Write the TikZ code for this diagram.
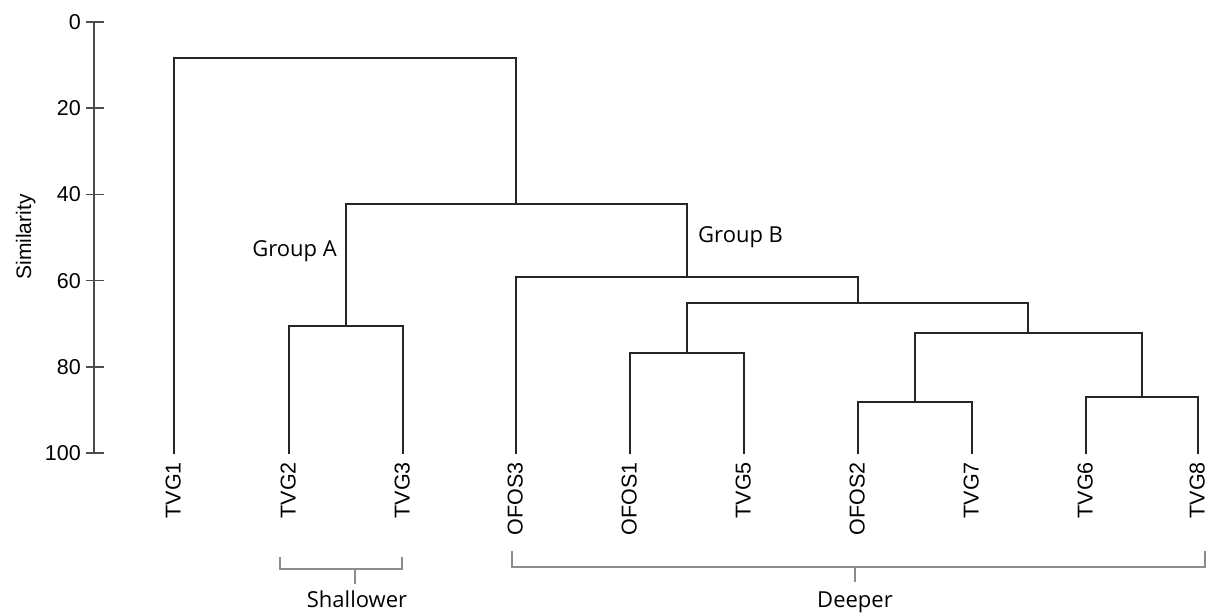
\documentclass[tikz,border=0pt]{standalone}
\usepackage{fontspec}
\setmainfont{Liberation Sans}
\newfontfamily\grpfont{Open Sans}
\begin{document}
\begin{tikzpicture}[x=1pt,y=-1pt,
  tree/.style={line width=1.8pt, black!85, line cap=rect},
  axisline/.style={line width=1.5pt, black!70},
  brack/.style={line width=1.2pt, black!45},
  leaflbl/.style={rotate=90, anchor=base east, font=\fontsize{21.5}{25}\selectfont, inner sep=0pt},
  ticklbl/.style={anchor=east, font=\fontsize{21.5}{25}\selectfont, inner sep=0pt},
  grplbl/.style={font=\grpfont\fontsize{22}{26}\selectfont, inner sep=0pt}]
\useasboundingbox (0,0) rectangle (1208,616);

% axis
\coordinate (ax0) at (94,22);
\coordinate (ax100) at (94,453);
\draw[axisline] (ax0) -- (ax100);
\foreach \v in {0,20,40,60,80,100}{
  \coordinate (t\v) at (94,{22+4.31*\v});
  \draw[axisline] ([xshift=-8pt]t\v) -- ([xshift=10pt]t\v);
  \node[ticklbl] (tl\v) at ([xshift=-13pt]t\v) {\v};
}
\node[rotate=90, anchor=base, font=\fontsize{21}{25}\selectfont, inner sep=0pt] (ylab) at (31,237) {Similarity};

% leaves
\foreach \n/\x/\t in {1/174/TVG1,2/289/TVG2,3/403/TVG3,4/516/OFOS3,5/630/OFOS1,6/744/TVG5,7/858/OFOS2,8/972/TVG7,9/1086/TVG6,10/1198/TVG8}{
  \coordinate (L\n) at (\x,453);
  \node[leaflbl] (N\n) at (\x+6.5,462) {\t};
}

% merges
\coordinate (mA)   at (346,326);
\coordinate (m15)  at (687,353);
\coordinate (m27)  at (915,402);
\coordinate (m68)  at (1142,397);
\coordinate (mD)   at (1028,333);
\coordinate (mC)   at (858,303);
\coordinate (mB)   at (687,277);
\coordinate (mAB)  at (516,204);
\coordinate (root) at (345,58);

\draw[tree] (L2) |- (mA) -| (L3);
\draw[tree] (L5) |- (m15) -| (L6);
\draw[tree] (L7) |- (m27) -| (L8);
\draw[tree] (L9) |- (m68) -| (L10);
\draw[tree] (m27) |- (mD) -| (m68);
\draw[tree] (m15) |- (mC) -| (mD);
\draw[tree] (L4) |- (mB) -| (mC);
\draw[tree] (mA) |- (mAB) -| (mB);
\draw[tree] (L1) |- (root) -| (mAB);

% group labels
\node[grplbl, anchor=base east] (gA) at (337,256) {Group A};
\node[grplbl, anchor=base west] (gB) at (698,242) {Group B};

% brackets
\coordinate (s1) at (280,557);
\coordinate (s2) at (402,557);
\coordinate (sm) at (355,569);
\draw[brack] (s1) |- (sm) -| (s2);
\draw[brack] (sm) -- ++(0,15);
\node[grplbl, anchor=base] (shal) at (357,607) {Shallower};

\coordinate (d1) at (512,551);
\coordinate (d2) at (1205,551);
\coordinate (dm) at (855,567);
\draw[brack] (d1) |- (dm) -| (d2);
\draw[brack] (dm) -- ++(0,15);
\node[grplbl, anchor=base] (deep) at (855,607) {Deeper};
\end{tikzpicture}
\end{document}
